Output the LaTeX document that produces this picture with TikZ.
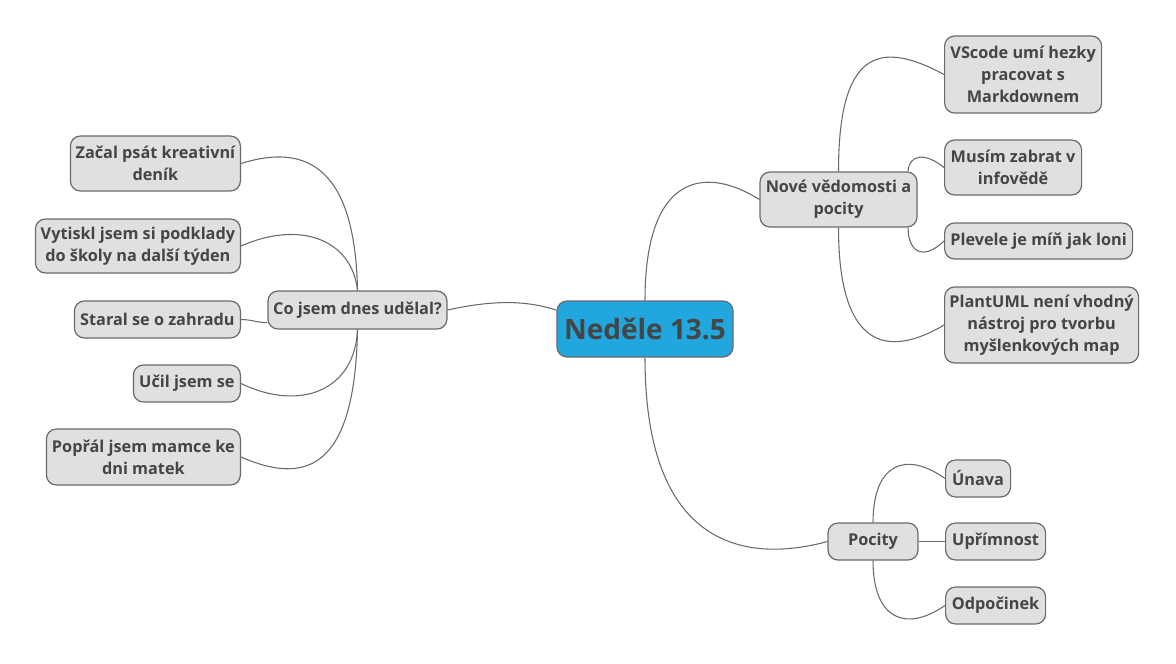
\documentclass[tikz,border=0pt]{standalone}
\usepackage{fontspec}
\setmainfont{Open Sans}
\usepackage{tikz}
\usetikzlibrary{positioning}
\definecolor{txtgray}{HTML}{454545}
\definecolor{boxfill}{HTML}{E0E0E0}
\definecolor{boxline}{HTML}{6A6A6A}
\definecolor{rootblue}{HTML}{21A6DD}

\begin{document}
\begin{tikzpicture}[x=0.75pt, y=-0.75pt, font=\bfseries\fontsize{12.2}{16.5}\selectfont,
    idea/.style={draw=boxline, line width=0.9pt, fill=boxfill, rounded corners=7.5pt, text=txtgray, align=center, inner sep=0pt},
    root/.style={idea, fill=rootblue, font=\bfseries\fontsize{21}{26}\selectfont},
    branch/.style={draw=boxline, line width=0.8pt}]
      \useasboundingbox (0,0) rectangle (1176,663);

      % Root
      \node[root, minimum width=132pt, minimum height=42pt] (nedele) at (645,329) {Neděle 13.5};

      % Left side
      \node[idea, minimum width=134.25pt, minimum height=28.5pt] (udelal) at (357.5,310) {Co jsem dnes udělal?};
      \node[idea, anchor=east, minimum width=127.5pt, minimum height=41.25pt] (denik) at (241,163.5) {Začal psát kreativní\\deník};
      \node[idea, anchor=east, minimum width=153.75pt, minimum height=40.5pt] (podklady) at (241,246) {Vytiskl jsem si podklady\\do školy na další týden};
      \node[idea, anchor=east, minimum width=124.5pt, minimum height=27.75pt] (zahrada) at (241,319.5) {Staral se o zahradu};
      \node[idea, anchor=east, minimum width=80.25pt, minimum height=27.75pt] (ucil) at (241,383.5) {Učil jsem se};
      \node[idea, anchor=east, minimum width=145.5pt, minimum height=42pt] (mamka) at (241,457) {Popřál jsem mamce ke\\dni matek};

      % Right side, top
      \node[idea, minimum width=117.75pt, minimum height=41.25pt] (nove) at (838.5,199.5) {Nové vědomosti a\\pocity};
      \node[idea, anchor=west, minimum width=117.75pt, minimum height=57.75pt] (vscode) at (944,74.5) {VScode umí hezky\\pracovat s\\Markdownem};
      \node[idea, anchor=west, minimum width=102.75pt, minimum height=41.25pt] (zabrat) at (944,167.5) {Musím zabrat v\\infovědě};
      \node[idea, anchor=west, minimum width=141pt, minimum height=27pt] (plevel) at (944,241) {Plevele je míň jak loni};
      \node[idea, anchor=west, minimum width=145.5pt, minimum height=57pt] (plantuml) at (944,325) {PlantUML není vhodný\\nástroj pro tvorbu\\myšlenkových map};

      % Right side, bottom
      \node[idea, minimum width=67.5pt, minimum height=27.75pt] (pocity) at (873,541.5) {Pocity};
      \node[idea, anchor=west, minimum width=48.75pt, minimum height=27.75pt] (unava) at (945,478.5) {Únava};
      \node[idea, anchor=west, minimum width=75pt, minimum height=27.75pt] (uprimnost) at (945,541.5) {Upřímnost};
      \node[idea, anchor=west, minimum width=75pt, minimum height=27.75pt] (odpocinek) at (945,605.5) {Odpočinek};

      % Branches from the root
      \draw[branch] (nedele.168) .. controls +(-30,-10) and +(45,-10) .. (udelal.east);
      \draw[branch] (nedele.north) .. controls +(0,-126) and +(-55,-34.5) .. (nove.west);
      \draw[branch] (nedele.south) .. controls +(0,203) and +(-68,18.5) .. (pocity.west);

      % Left leaves
      \draw[branch] (udelal.north) .. controls +(-2.5,-131) and +(59,-18.5) .. (denik.east);
      \draw[branch] (udelal.north) .. controls +(-5.5,-51) and +(59,-26) .. (podklady.east);
      \draw[branch] (udelal.188) .. controls +(-10,0) and +(10,0) .. (zahrada.east);
      \draw[branch] (udelal.south) .. controls +(-2.5,61) and +(59,28.5) .. (ucil.east);
      \draw[branch] (udelal.south) .. controls +(-2.5,141) and +(64,28) .. (mamka.east);

      % Right leaves
      \draw[branch] (nove.north) .. controls +(0,-122) and +(-64,-34.5) .. (vscode.west);
      \draw[branch] (nove.22) .. controls +(1,-17) and +(-19,-15.5) .. (zabrat.west);
      \draw[branch] (nove.-22) .. controls +(0,23) and +(-22,21) .. (plevel.west);
      \draw[branch] (nove.south) .. controls +(0,118) and +(-59,35) .. (plantuml.west);
      \draw[branch] (pocity.north) .. controls +(0,-58) and +(-40,-28.5) .. (unava.west);
      \draw[branch] (pocity.east) -- (uprimnost.west);
      \draw[branch] (pocity.south) .. controls +(0,58) and +(-40,27.5) .. (odpocinek.west);
\end{tikzpicture}
\end{document}
